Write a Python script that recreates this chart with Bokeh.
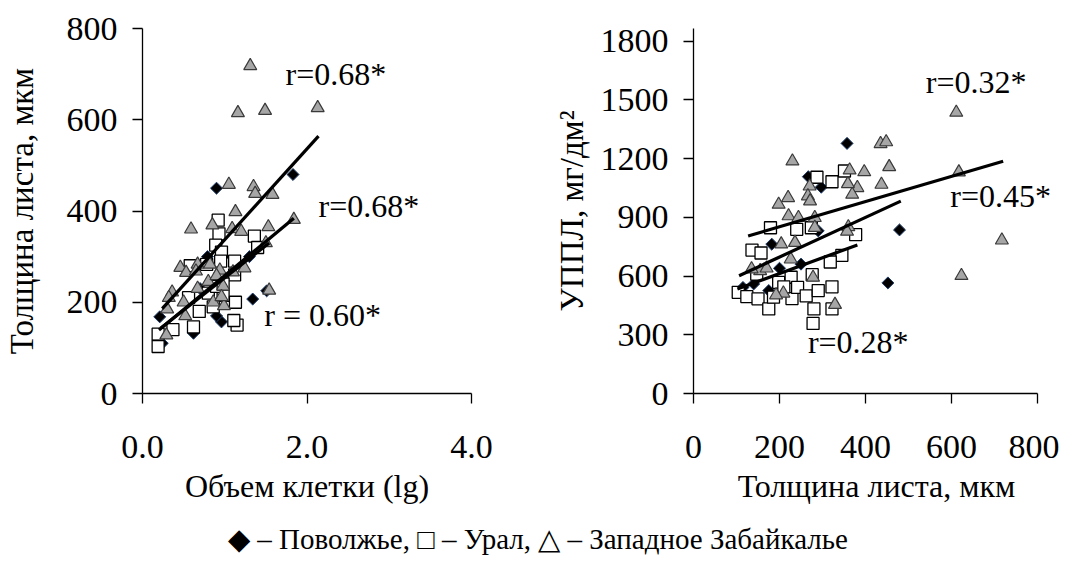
from bokeh.plotting import figure
from bokeh.layouts import column, row
from bokeh.models import FixedTicker, Label, Range1d, PrintfTickFormatter
from bokeh.embed import file_html
from bokeh.resources import INLINE
import numpy as np

FONT = "Liberation Serif"

# ---------------- left panel: cell volume (lg) vs leaf thickness ----------------
left_xticks = [0, 2, 4]
left_yticks = [0, 200, 400, 600, 800]

l_dia_x = [0.90, 1.83, 1.34, 1.51, 0.96, 0.90, 0.79, 0.21, 0.24, 0.62, 1.30, 0.70]
l_dia_y = [450, 480, 207, 225, 157, 170, 300, 168, 110, 132, 300, 230]

l_sq_x = [0.92, 0.93, 1.36, 0.89, 0.96, 1.40, 1.12, 0.95, 0.58, 0.78, 1.12, 0.56, 0.80,
          0.98, 1.13, 0.69, 0.62, 0.37, 0.19, 0.19, 1.15, 1.11, 0.90, 0.86, 0.98]
l_sq_y = [380, 350, 345, 325, 310, 320, 290, 290, 280, 283, 260, 210, 220,
          215, 200, 180, 146, 140, 130, 103, 150, 160, 235, 190, 240]

l_tri_x = [1.31, 1.16, 1.49, 2.13, 1.05, 1.35, 1.37, 1.58, 1.13, 0.59, 0.85, 1.09, 1.20,
           1.53, 1.84, 1.50, 0.46, 0.53, 0.67, 0.65, 0.82, 0.94, 1.10, 1.24, 0.36, 0.32,
           0.50, 0.67, 0.80, 0.98, 1.54, 0.86, 0.99, 0.52, 0.30, 0.29, 0.96, 0.90]
l_tri_y = [718, 615, 620, 626, 458, 453, 438, 436, 398, 360, 369, 361, 355,
           365, 381, 330, 276, 265, 283, 268, 283, 270, 266, 275, 222, 210,
           200, 230, 245, 235, 226, 200, 192, 170, 185, 128, 212, 258]

# trend lines (start, end)
l_trend_x = [[0.24, 2.14], [0.20, 1.84], [0.22, 1.54]]
l_trend_y = [[186, 564], [139, 384], [143, 330]]
l_r_text = ["r=0.68*", "r=0.68*", "r = 0.60*"]
l_r_x = [1.74, 2.14, 1.48]
l_r_y = [700, 412, 172]

# ---------------- right panel: leaf thickness vs УППЛ ----------------
right_xticks = [0, 200, 400, 600, 800]
right_yticks = [0, 300, 600, 900, 1200, 1500, 1800]

r_dia_x = [357, 479, 452, 267, 297, 182, 175, 250, 290, 115, 200, 140]
r_dia_y = [1278, 836, 565, 1108, 1054, 763, 526, 661, 831, 542, 640, 560]

r_sq_x = [287, 322, 351, 179, 240, 274, 377, 136, 157, 345, 318, 147, 198, 227, 276,
          104, 124, 150, 175, 229, 242, 262, 290, 322, 280, 278, 322, 186, 210]
r_sq_y = [1105, 1082, 1137, 847, 839, 847, 812, 733, 718, 706, 672, 610, 568, 594, 607,
          517, 495, 484, 432, 485, 542, 499, 526, 545, 432, 358, 432, 492, 545]

r_tri_x = [611, 617, 623, 717, 435, 448, 455, 437, 230, 363, 397, 381, 369, 359, 270,
           266, 271, 220, 198, 221, 244, 282, 282, 360, 357, 204, 236, 226, 155, 135,
           170, 278, 209, 192, 329]
r_tri_y = [1436, 1131, 602, 783, 1276, 1285, 1158, 1068, 1187, 1141, 1132, 1051, 1017, 1071, 1059,
           1009, 983, 1000, 966, 907, 898, 898, 848, 851, 828, 763, 771, 686, 627, 636,
           640, 593, 512, 503, 454]

r_trend_x = [[127, 720], [106, 482], [102, 381]]
r_trend_y = [[805, 1187], [602, 983], [534, 759]]
r_r_text = ["r=0.32*", "r=0.45*", "r=0.28*"]
r_r_x = [540, 597, 266]
r_r_y = [1590, 1008, 263]

legend_text = "\u25c6 \u2013 Поволжье, \u25a1 \u2013 Урал, \u25b3 \u2013 Западное Забайкалье"


def style(p):
    p.grid.visible = False
    p.outline_line_color = None
    p.background_fill_color = "white"
    p.border_fill_color = "white"
    for ax in (p.xaxis[0], p.yaxis[0]):
        ax.axis_line_color = "black"
        ax.axis_line_width = 1.3
        ax.major_tick_line_color = "black"
        ax.major_tick_line_width = 1.3
        ax.major_tick_out = 10
        ax.major_tick_in = 0
        ax.minor_tick_line_color = None
        ax.major_label_text_font = FONT
        ax.major_label_text_font_size = "34px"
        ax.major_label_text_color = "black"
        ax.axis_label_text_font = FONT
        ax.axis_label_text_font_style = "normal"
        ax.axis_label_text_font_size = "32px"
        ax.axis_label_text_color = "black"
    p.yaxis[0].major_label_standoff = 15
    p.yaxis[0].axis_label_text_font_size = "33px"
    p.xaxis[0].major_label_standoff = 32
    p.xaxis[0].axis_label_standoff = 7


def draw_points(p, dx, dy, sx, sy, tx, ty):
    p.scatter(dx, dy, marker="square", angle=np.pi / 4, size=8.5,
              fill_color="black", line_color="#1f3f6e", line_width=1)
    p.scatter(sx, sy, marker="square", size=12,
              fill_color="white", line_color="black", line_width=1.3)
    p.scatter(tx, ty, marker="triangle", size=13,
              fill_color="#a6a6a6", line_color="#3a3a3a", line_width=1.2)


# left figure
p1 = figure(width=532, height=506, output_backend="svg", toolbar_location=None,
            x_range=Range1d(0, 4), y_range=Range1d(0, 800),
            min_border_left=141, min_border_right=61, min_border_top=25, min_border_bottom=109)
style(p1)
p1.yaxis[0].axis_label_standoff = 24
p1.xaxis[0].ticker = FixedTicker(ticks=left_xticks)
p1.xaxis[0].formatter = PrintfTickFormatter(format="%.1f")
p1.yaxis[0].ticker = FixedTicker(ticks=left_yticks)
p1.xaxis[0].axis_label = "Объем клетки (lg)"
p1.yaxis[0].axis_label = "Толщина листа, мкм"
draw_points(p1, l_dia_x, l_dia_y, l_sq_x, l_sq_y, l_tri_x, l_tri_y)
p1.multi_line(l_trend_x, l_trend_y, line_color="black", line_width=3.2)
for t, x, y in zip(l_r_text, l_r_x, l_r_y):
    p1.add_layout(Label(x=x, y=y, text=t, text_font=FONT, text_font_size="32px",
                        text_baseline="middle", text_align="left", text_color="black"))

# right figure (x range extended so the r-label fits; axis line bounded to 0..800)
p2 = figure(width=527, height=506, output_backend="svg", toolbar_location=None,
            x_range=Range1d(0, 851), y_range=Range1d(0, 1865),
            min_border_left=161, min_border_right=0, min_border_top=28, min_border_bottom=109)
style(p2)
p2.yaxis[0].axis_label_standoff = 8
p2.xaxis[0].bounds = (0, 800)
p2.xaxis[0].ticker = FixedTicker(ticks=right_xticks)
p2.yaxis[0].ticker = FixedTicker(ticks=right_yticks)
p2.xaxis[0].axis_label = "Толщина листа, мкм"
p2.yaxis[0].axis_label = "УППЛ, мг/дм\u00b2"
draw_points(p2, r_dia_x, r_dia_y, r_sq_x, r_sq_y, r_tri_x, r_tri_y)
p2.multi_line(r_trend_x, r_trend_y, line_color="black", line_width=3.2)
for t, x, y in zip(r_r_text, r_r_x, r_r_y):
    p2.add_layout(Label(x=x, y=y, text=t, text_font=FONT, text_font_size="32px",
                        text_baseline="middle", text_align="left", text_color="black"))

# legend strip
p3 = figure(width=1059, height=51, output_backend="svg", toolbar_location=None,
            x_range=Range1d(0, 1), y_range=Range1d(0, 1),
            min_border=0, min_border_left=0, min_border_right=0,
            min_border_top=0, min_border_bottom=0)
p3.axis.visible = False
p3.grid.visible = False
p3.outline_line_color = None
p3.add_layout(Label(x=0.5075, y=0.36, text=legend_text, text_font=FONT, text_font_size="29px",
                    text_baseline="middle", text_align="center", text_color="black"))

layout = column(row(p1, p2, spacing=0), p3, spacing=0)
open("out.html", "w").write(file_html(layout, INLINE))
